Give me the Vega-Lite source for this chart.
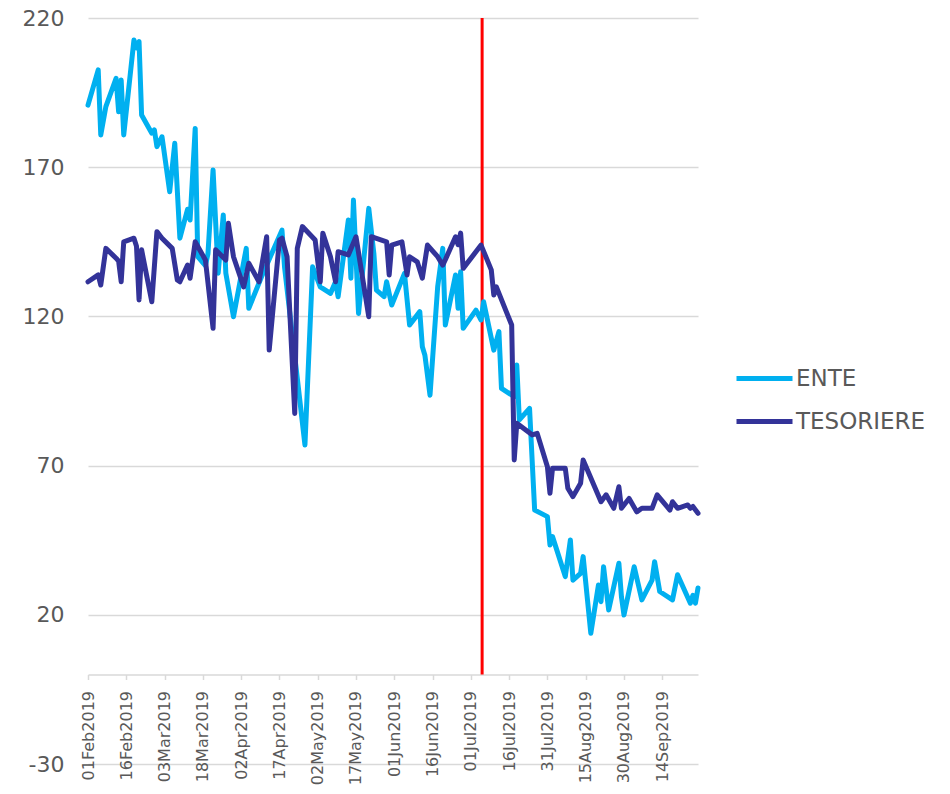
{
  "$schema": "https://vega.github.io/schema/vega-lite/v6.json",
  "autosize": "none",
  "width": 610,
  "height": 746,
  "padding": {"left": 88, "top": 18, "right": 252, "bottom": 30},
  "background": "white",
  "config": {"font": "DejaVu Sans", "view": {"stroke": null}},
  "datasets": {
    "series": [
      {"date": "2019-02-01", "series": "ENTE", "value": 190.8},
      {"date": "2019-02-05", "series": "ENTE", "value": 202.6},
      {"date": "2019-02-06", "series": "ENTE", "value": 180.8},
      {"date": "2019-02-08", "series": "ENTE", "value": 190.3},
      {"date": "2019-02-12", "series": "ENTE", "value": 199.8},
      {"date": "2019-02-13", "series": "ENTE", "value": 188.6},
      {"date": "2019-02-14", "series": "ENTE", "value": 199.2},
      {"date": "2019-02-15", "series": "ENTE", "value": 180.8},
      {"date": "2019-02-19", "series": "ENTE", "value": 212.6},
      {"date": "2019-02-20", "series": "ENTE", "value": 210},
      {"date": "2019-02-21", "series": "ENTE", "value": 212.1},
      {"date": "2019-02-22", "series": "ENTE", "value": 187.5},
      {"date": "2019-02-26", "series": "ENTE", "value": 181.4},
      {"date": "2019-02-27", "series": "ENTE", "value": 182.5},
      {"date": "2019-02-28", "series": "ENTE", "value": 176.9},
      {"date": "2019-03-02", "series": "ENTE", "value": 180.2},
      {"date": "2019-03-05", "series": "ENTE", "value": 161.8},
      {"date": "2019-03-07", "series": "ENTE", "value": 178},
      {"date": "2019-03-09", "series": "ENTE", "value": 146.2},
      {"date": "2019-03-12", "series": "ENTE", "value": 155.9},
      {"date": "2019-03-13", "series": "ENTE", "value": 152.3},
      {"date": "2019-03-15", "series": "ENTE", "value": 183},
      {"date": "2019-03-16", "series": "ENTE", "value": 140},
      {"date": "2019-03-19", "series": "ENTE", "value": 137},
      {"date": "2019-03-20", "series": "ENTE", "value": 141},
      {"date": "2019-03-22", "series": "ENTE", "value": 169.1},
      {"date": "2019-03-24", "series": "ENTE", "value": 134.5},
      {"date": "2019-03-26", "series": "ENTE", "value": 154},
      {"date": "2019-03-27", "series": "ENTE", "value": 134.5},
      {"date": "2019-03-30", "series": "ENTE", "value": 119.9},
      {"date": "2019-04-04", "series": "ENTE", "value": 142.8},
      {"date": "2019-04-05", "series": "ENTE", "value": 122.7},
      {"date": "2019-04-10", "series": "ENTE", "value": 133.3},
      {"date": "2019-04-18", "series": "ENTE", "value": 148.9},
      {"date": "2019-04-19", "series": "ENTE", "value": 136.6},
      {"date": "2019-04-27", "series": "ENTE", "value": 76.9},
      {"date": "2019-04-30", "series": "ENTE", "value": 136.6},
      {"date": "2019-05-03", "series": "ENTE", "value": 129.9},
      {"date": "2019-05-07", "series": "ENTE", "value": 127.7},
      {"date": "2019-05-09", "series": "ENTE", "value": 131.6},
      {"date": "2019-05-10", "series": "ENTE", "value": 126.6},
      {"date": "2019-05-14", "series": "ENTE", "value": 152.3},
      {"date": "2019-05-15", "series": "ENTE", "value": 132.8},
      {"date": "2019-05-16", "series": "ENTE", "value": 159},
      {"date": "2019-05-18", "series": "ENTE", "value": 121},
      {"date": "2019-05-22", "series": "ENTE", "value": 156.2},
      {"date": "2019-05-24", "series": "ENTE", "value": 141.1},
      {"date": "2019-05-25", "series": "ENTE", "value": 128.8},
      {"date": "2019-05-28", "series": "ENTE", "value": 126.6},
      {"date": "2019-05-29", "series": "ENTE", "value": 131.6},
      {"date": "2019-05-31", "series": "ENTE", "value": 123.8},
      {"date": "2019-06-05", "series": "ENTE", "value": 134.4},
      {"date": "2019-06-07", "series": "ENTE", "value": 117.1},
      {"date": "2019-06-11", "series": "ENTE", "value": 121.6},
      {"date": "2019-06-12", "series": "ENTE", "value": 109.8},
      {"date": "2019-06-13", "series": "ENTE", "value": 107},
      {"date": "2019-06-15", "series": "ENTE", "value": 93.6},
      {"date": "2019-06-18", "series": "ENTE", "value": 129.9},
      {"date": "2019-06-20", "series": "ENTE", "value": 142.8},
      {"date": "2019-06-21", "series": "ENTE", "value": 117.1},
      {"date": "2019-06-25", "series": "ENTE", "value": 133.9},
      {"date": "2019-06-26", "series": "ENTE", "value": 122.7},
      {"date": "2019-06-27", "series": "ENTE", "value": 135},
      {"date": "2019-06-28", "series": "ENTE", "value": 116},
      {"date": "2019-07-03", "series": "ENTE", "value": 122.1},
      {"date": "2019-07-05", "series": "ENTE", "value": 118.8},
      {"date": "2019-07-06", "series": "ENTE", "value": 124.9},
      {"date": "2019-07-10", "series": "ENTE", "value": 108.7},
      {"date": "2019-07-12", "series": "ENTE", "value": 114.9},
      {"date": "2019-07-13", "series": "ENTE", "value": 95.9},
      {"date": "2019-07-18", "series": "ENTE", "value": 93.1},
      {"date": "2019-07-19", "series": "ENTE", "value": 103.7},
      {"date": "2019-07-20", "series": "ENTE", "value": 85.3},
      {"date": "2019-07-24", "series": "ENTE", "value": 89.2},
      {"date": "2019-07-26", "series": "ENTE", "value": 55.1},
      {"date": "2019-07-31", "series": "ENTE", "value": 52.9},
      {"date": "2019-08-01", "series": "ENTE", "value": 43.4},
      {"date": "2019-08-02", "series": "ENTE", "value": 46.2},
      {"date": "2019-08-07", "series": "ENTE", "value": 32.8},
      {"date": "2019-08-09", "series": "ENTE", "value": 45.1},
      {"date": "2019-08-10", "series": "ENTE", "value": 31.6},
      {"date": "2019-08-13", "series": "ENTE", "value": 33.9},
      {"date": "2019-08-14", "series": "ENTE", "value": 39.5},
      {"date": "2019-08-17", "series": "ENTE", "value": 13.8},
      {"date": "2019-08-20", "series": "ENTE", "value": 30},
      {"date": "2019-08-21", "series": "ENTE", "value": 24.4},
      {"date": "2019-08-22", "series": "ENTE", "value": 36.1},
      {"date": "2019-08-24", "series": "ENTE", "value": 21.6},
      {"date": "2019-08-28", "series": "ENTE", "value": 37.3},
      {"date": "2019-08-29", "series": "ENTE", "value": 26.1},
      {"date": "2019-08-30", "series": "ENTE", "value": 19.9},
      {"date": "2019-09-03", "series": "ENTE", "value": 36.1},
      {"date": "2019-09-06", "series": "ENTE", "value": 25},
      {"date": "2019-09-10", "series": "ENTE", "value": 31.6},
      {"date": "2019-09-11", "series": "ENTE", "value": 37.8},
      {"date": "2019-09-13", "series": "ENTE", "value": 27.8},
      {"date": "2019-09-18", "series": "ENTE", "value": 25},
      {"date": "2019-09-20", "series": "ENTE", "value": 33.4},
      {"date": "2019-09-25", "series": "ENTE", "value": 23.9},
      {"date": "2019-09-26", "series": "ENTE", "value": 26.5},
      {"date": "2019-09-27", "series": "ENTE", "value": 23.9},
      {"date": "2019-09-28", "series": "ENTE", "value": 29},
      {"date": "2019-02-01", "series": "TESORIERE", "value": 131.6},
      {"date": "2019-02-05", "series": "TESORIERE", "value": 133.9},
      {"date": "2019-02-06", "series": "TESORIERE", "value": 130.5},
      {"date": "2019-02-08", "series": "TESORIERE", "value": 142.8},
      {"date": "2019-02-12", "series": "TESORIERE", "value": 139.5},
      {"date": "2019-02-13", "series": "TESORIERE", "value": 138.5},
      {"date": "2019-02-14", "series": "TESORIERE", "value": 131.6},
      {"date": "2019-02-15", "series": "TESORIERE", "value": 145},
      {"date": "2019-02-19", "series": "TESORIERE", "value": 146.2},
      {"date": "2019-02-20", "series": "TESORIERE", "value": 143.5},
      {"date": "2019-02-21", "series": "TESORIERE", "value": 125.5},
      {"date": "2019-02-22", "series": "TESORIERE", "value": 142.3},
      {"date": "2019-02-26", "series": "TESORIERE", "value": 124.9},
      {"date": "2019-02-28", "series": "TESORIERE", "value": 148.4},
      {"date": "2019-03-02", "series": "TESORIERE", "value": 146.2},
      {"date": "2019-03-06", "series": "TESORIERE", "value": 142.8},
      {"date": "2019-03-08", "series": "TESORIERE", "value": 132.2},
      {"date": "2019-03-09", "series": "TESORIERE", "value": 131.6},
      {"date": "2019-03-12", "series": "TESORIERE", "value": 137.2},
      {"date": "2019-03-13", "series": "TESORIERE", "value": 132.8},
      {"date": "2019-03-15", "series": "TESORIERE", "value": 145},
      {"date": "2019-03-19", "series": "TESORIERE", "value": 138.9},
      {"date": "2019-03-22", "series": "TESORIERE", "value": 116},
      {"date": "2019-03-23", "series": "TESORIERE", "value": 142.3},
      {"date": "2019-03-27", "series": "TESORIERE", "value": 138.9},
      {"date": "2019-03-28", "series": "TESORIERE", "value": 151.2},
      {"date": "2019-03-30", "series": "TESORIERE", "value": 140},
      {"date": "2019-04-03", "series": "TESORIERE", "value": 129.9},
      {"date": "2019-04-05", "series": "TESORIERE", "value": 137.8},
      {"date": "2019-04-09", "series": "TESORIERE", "value": 131.6},
      {"date": "2019-04-12", "series": "TESORIERE", "value": 146.7},
      {"date": "2019-04-13", "series": "TESORIERE", "value": 108.7},
      {"date": "2019-04-17", "series": "TESORIERE", "value": 145.6},
      {"date": "2019-04-18", "series": "TESORIERE", "value": 146.2},
      {"date": "2019-04-20", "series": "TESORIERE", "value": 140},
      {"date": "2019-04-23", "series": "TESORIERE", "value": 87.5},
      {"date": "2019-04-24", "series": "TESORIERE", "value": 142.8},
      {"date": "2019-04-26", "series": "TESORIERE", "value": 150.1},
      {"date": "2019-05-01", "series": "TESORIERE", "value": 145.6},
      {"date": "2019-05-03", "series": "TESORIERE", "value": 131.6},
      {"date": "2019-05-04", "series": "TESORIERE", "value": 147.9},
      {"date": "2019-05-07", "series": "TESORIERE", "value": 140},
      {"date": "2019-05-09", "series": "TESORIERE", "value": 131.6},
      {"date": "2019-05-10", "series": "TESORIERE", "value": 141.7},
      {"date": "2019-05-14", "series": "TESORIERE", "value": 140.6},
      {"date": "2019-05-17", "series": "TESORIERE", "value": 146.7},
      {"date": "2019-05-22", "series": "TESORIERE", "value": 119.9},
      {"date": "2019-05-23", "series": "TESORIERE", "value": 146.7},
      {"date": "2019-05-29", "series": "TESORIERE", "value": 145},
      {"date": "2019-05-30", "series": "TESORIERE", "value": 133.9},
      {"date": "2019-05-31", "series": "TESORIERE", "value": 143.9},
      {"date": "2019-06-04", "series": "TESORIERE", "value": 145},
      {"date": "2019-06-06", "series": "TESORIERE", "value": 133.9},
      {"date": "2019-06-07", "series": "TESORIERE", "value": 140},
      {"date": "2019-06-10", "series": "TESORIERE", "value": 138.3},
      {"date": "2019-06-12", "series": "TESORIERE", "value": 132.8},
      {"date": "2019-06-14", "series": "TESORIERE", "value": 143.9},
      {"date": "2019-06-18", "series": "TESORIERE", "value": 140},
      {"date": "2019-06-20", "series": "TESORIERE", "value": 137.2},
      {"date": "2019-06-21", "series": "TESORIERE", "value": 139},
      {"date": "2019-06-25", "series": "TESORIERE", "value": 146.7},
      {"date": "2019-06-26", "series": "TESORIERE", "value": 144},
      {"date": "2019-06-27", "series": "TESORIERE", "value": 147.9},
      {"date": "2019-06-28", "series": "TESORIERE", "value": 136.1},
      {"date": "2019-07-05", "series": "TESORIERE", "value": 143.9},
      {"date": "2019-07-09", "series": "TESORIERE", "value": 135.6},
      {"date": "2019-07-10", "series": "TESORIERE", "value": 127.2},
      {"date": "2019-07-11", "series": "TESORIERE", "value": 129.9},
      {"date": "2019-07-17", "series": "TESORIERE", "value": 117.1},
      {"date": "2019-07-18", "series": "TESORIERE", "value": 71.9},
      {"date": "2019-07-19", "series": "TESORIERE", "value": 84.2},
      {"date": "2019-07-25", "series": "TESORIERE", "value": 80.3},
      {"date": "2019-07-27", "series": "TESORIERE", "value": 80.8},
      {"date": "2019-07-31", "series": "TESORIERE", "value": 69.6},
      {"date": "2019-08-01", "series": "TESORIERE", "value": 60.7},
      {"date": "2019-08-02", "series": "TESORIERE", "value": 69.1},
      {"date": "2019-08-07", "series": "TESORIERE", "value": 69.1},
      {"date": "2019-08-08", "series": "TESORIERE", "value": 62.4},
      {"date": "2019-08-10", "series": "TESORIERE", "value": 59.6},
      {"date": "2019-08-13", "series": "TESORIERE", "value": 64.1},
      {"date": "2019-08-14", "series": "TESORIERE", "value": 71.9},
      {"date": "2019-08-21", "series": "TESORIERE", "value": 57.9},
      {"date": "2019-08-23", "series": "TESORIERE", "value": 60.2},
      {"date": "2019-08-26", "series": "TESORIERE", "value": 55.7},
      {"date": "2019-08-28", "series": "TESORIERE", "value": 62.9},
      {"date": "2019-08-29", "series": "TESORIERE", "value": 55.7},
      {"date": "2019-09-01", "series": "TESORIERE", "value": 59},
      {"date": "2019-09-04", "series": "TESORIERE", "value": 54.5},
      {"date": "2019-09-06", "series": "TESORIERE", "value": 55.7},
      {"date": "2019-09-10", "series": "TESORIERE", "value": 55.7},
      {"date": "2019-09-12", "series": "TESORIERE", "value": 60.2},
      {"date": "2019-09-17", "series": "TESORIERE", "value": 55.1},
      {"date": "2019-09-18", "series": "TESORIERE", "value": 57.9},
      {"date": "2019-09-20", "series": "TESORIERE", "value": 55.7},
      {"date": "2019-09-24", "series": "TESORIERE", "value": 56.8},
      {"date": "2019-09-25", "series": "TESORIERE", "value": 55.7},
      {"date": "2019-09-26", "series": "TESORIERE", "value": 56.3},
      {"date": "2019-09-28", "series": "TESORIERE", "value": 54}
    ],
    "marker": [{"date": "2019-07-05T10:00:00Z"}]
  },
  "layer": [
    {
      "data": {"name": "marker"},
      "mark": {"type": "rule", "color": "#FF0000", "strokeWidth": 3},
      "encoding": {
        "x": {"field": "date", "type": "temporal"},
        "y": {"datum": 220, "type": "quantitative"},
        "y2": {"datum": 0}
      }
    },
    {
      "data": {"name": "series"},
      "mark": {"type": "line", "strokeWidth": 5, "strokeJoin": "round", "strokeCap": "round"},
      "encoding": {
        "x": {
          "field": "date", "type": "temporal",
          "scale": {"type": "utc", "domain": [{"year": 2019, "month": 2, "date": 1, "utc": true}, {"year": 2019, "month": 9, "date": 28, "utc": true}]},
          "axis": {
            "title": null, "orient": "bottom", "offset": -89.5, "grid": false,
            "domainColor": "#d9d9d9", "domainWidth": 1.5,
            "tickColor": "#d9d9d9", "tickSize": 5, "tickWidth": 1.5,
            "labelAngle": 270, "labelFontSize": 16, "labelColor": "#595959", "labelPadding": 11,
            "labelOverlap": false, "labelBound": false, "labelFlush": false,
            "format": "%d%b%Y",
            "values": [
              {"year": 2019, "month": 2, "date": 1, "utc": true},
              {"year": 2019, "month": 2, "date": 16, "utc": true},
              {"year": 2019, "month": 3, "date": 3, "utc": true},
              {"year": 2019, "month": 3, "date": 18, "utc": true},
              {"year": 2019, "month": 4, "date": 2, "utc": true},
              {"year": 2019, "month": 4, "date": 17, "utc": true},
              {"year": 2019, "month": 5, "date": 2, "utc": true},
              {"year": 2019, "month": 5, "date": 17, "utc": true},
              {"year": 2019, "month": 6, "date": 1, "utc": true},
              {"year": 2019, "month": 6, "date": 16, "utc": true},
              {"year": 2019, "month": 7, "date": 1, "utc": true},
              {"year": 2019, "month": 7, "date": 16, "utc": true},
              {"year": 2019, "month": 7, "date": 31, "utc": true},
              {"year": 2019, "month": 8, "date": 15, "utc": true},
              {"year": 2019, "month": 8, "date": 30, "utc": true},
              {"year": 2019, "month": 9, "date": 14, "utc": true}
            ]
          }
        },
        "y": {
          "field": "value", "type": "quantitative",
          "scale": {"domain": [-30, 220], "nice": false, "zero": false},
          "axis": {
            "title": null, "values": [-30, 20, 70, 120, 170, 220],
            "labelExpr": "'' + datum.value",
            "grid": true, "gridColor": "#d9d9d9", "gridWidth": 1.5,
            "domain": false, "ticks": false,
            "labelFontSize": 22, "labelColor": "#595959", "labelPadding": 24
          }
        },
        "color": {
          "field": "series", "type": "nominal",
          "scale": {"domain": ["ENTE", "TESORIERE"], "range": ["#00B0F0", "#333399"]},
          "legend": {
            "title": null, "orient": "none", "legendX": 646, "legendY": 330,
            "symbolType": "stroke", "symbolSize": 3136, "symbolStrokeWidth": 5,
            "labelFontSize": 23, "labelColor": "#595959", "labelOffset": 1,
            "rowPadding": -8
          }
        }
      }
    },
    {
      "data": {"name": "series"},
      "transform": [{"filter": "datum.date === '2019-09-28'"}],
      "mark": {"type": "text", "align": "left", "baseline": "middle", "dx": 23, "fontSize": 22, "color": "#404040"},
      "encoding": {
        "x": {"field": "date", "type": "temporal"},
        "y": {"field": "value", "type": "quantitative"},
        "text": {"field": "value", "type": "quantitative", "format": ".0f"}
      }
    }
  ]
}
